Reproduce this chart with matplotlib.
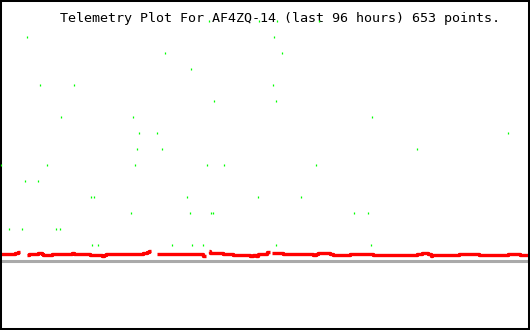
import numpy as np # contas
import matplotlib
matplotlib.use("Agg")
import matplotlib.pyplot as plt # graficos

# eixo x em horas (janela de 96 horas), y em "niveis" de telemetria
# pontos verdes: cada nivel e um valor inteiro do canal
verde_horas = [37.9, 46.9, 50.2, 57.8,
               4.9, 49.6,
               29.9, 51.1,
               34.6,
               7.2, 13.4, 49.4,
               38.8, 50.0,
               11.0, 24.1, 67.4,
               25.2, 28.4, 92.0,
               24.8, 29.3, 75.5,
               0.2, 8.5, 24.5, 37.5, 40.6, 57.2,
               4.5, 6.9,
               16.5, 17.0, 33.9, 46.7, 54.5,
               23.7, 34.4, 38.2, 38.6, 64.1, 66.7,
               1.6, 4.0, 10.1, 10.9,
               16.7, 17.8, 31.2, 34.8, 36.8, 50.0, 67.2]
verde_valor = [15, 15, 15, 15,
               14, 14,
               13, 13,
               12,
               11, 11, 11,
               10, 10,
               9, 9, 9,
               8, 8, 8,
               7, 7, 7,
               6, 6, 6, 6, 6, 6,
               5, 5,
               4, 4, 4, 4, 4,
               3, 3, 3, 3, 3, 3,
               2, 2, 2, 2,
               1, 1, 1, 1, 1, 1, 1]

# serie vermelha (quase constante, com uns buracos = nan)
vermelho_horas = [0.0, 0.5, 1.1, 1.8, 2.2, 2.7, 3.3, 3.6,
                  4.9, 5.3, 6.9, 7.6, 7.8, 9.4, 13.0, 13.4, 16.3, 18.5, 18.8, 19.2,
                  25.9, 26.6, 27.0, 27.3,
                  28.4, 29.0, 30.2, 31.2, 33.5, 33.9, 36.8, 37.3,
                  37.8, 38.0, 40.4, 42.2, 44.7, 45.3, 45.8, 46.4, 46.7, 48.4, 48.9,
                  49.3, 51.2, 56.7, 57.2, 57.6, 59.8, 60.3, 63.4, 67.5, 75.5, 76.4,
                  77.5, 78.0, 78.2, 83.1, 86.8, 92.0, 94.2, 96.0]
vermelho_valor = [0.41, 0.44, 0.41, 0.44, 0.41, 0.47, 0.56, np.nan,
                  0.39, 0.42, 0.48, 0.42, 0.39, 0.42, 0.52, 0.46, 0.39, 0.31, 0.39, 0.46,
                  0.50, 0.54, 0.61, np.nan,
                  0.46, 0.42, 0.46, 0.42, 0.46, 0.42, 0.33, np.nan,
                  0.61, 0.48, 0.42, 0.36, 0.39, 0.33, 0.39, 0.33, 0.46, 0.58, np.nan,
                  0.48, 0.42, 0.36, 0.42, 0.48, 0.42, 0.36, 0.42, 0.36, 0.42, 0.50,
                  0.42, 0.31, 0.36, 0.42, 0.36, 0.44, 0.36, 0.36]

linha_base = 0.0 # linha cinza de referencia

titulo = "Telemetry Plot For AF4ZQ-14 (last 96 hours) 653 points."

fig = plt.figure(figsize=(5.3, 3.3), dpi=100)
ax = fig.add_axes([0, 0, 1, 1])

ax.axhline(linha_base, color="#aaaaaa", lw=2.2, zorder=1)
ax.plot(vermelho_horas, vermelho_valor, color="#ff0000", lw=2.4,
        drawstyle="steps-post", solid_capstyle="butt", zorder=2)
# pontinhos verdes bem pequenos (1x2 px), sem antialias pra ficar nitido
ax.plot(verde_horas, verde_valor, ls="none", marker="|", ms=1.8, mew=0.9,
        color="#00ff00", antialiased=False, zorder=3)

# titulo meio deslocado pra direita igual ao original
ax.text(60 / 530, 1 - 22 / 330, titulo, transform=ax.transAxes,
        fontfamily="DejaVu Sans Mono", fontsize=9.6, va="baseline", ha="left",
        zorder=1.5)

ax.set_xlim(0, 96)
ax.set_ylim(-4.3125, 16.3125) # 16 px por nivel
ax.set_xticks([])
ax.set_yticks([])
for s in ax.spines.values():
    s.set_linewidth(2.9)
    s.set_color("black")

fig.savefig("out.png", dpi=100)
